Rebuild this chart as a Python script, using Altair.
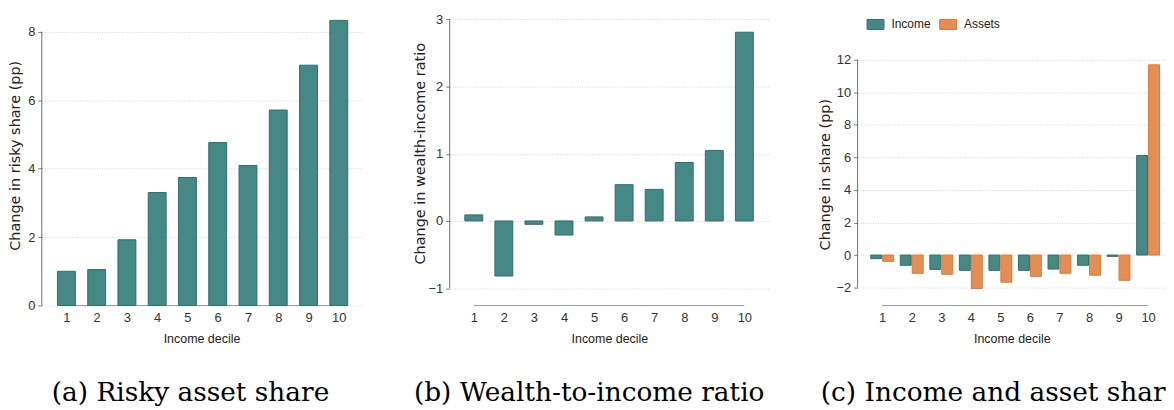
import altair as alt
import pandas as pd

# ---------------- data ----------------
deciles = list(range(1, 11))
risky_share = [1.00, 1.05, 1.92, 3.30, 3.74, 4.76, 4.09, 5.71, 7.02, 8.33]
wealth_income = [0.09, -0.82, -0.05, -0.21, 0.06, 0.54, 0.47, 0.87, 1.05, 2.81]
income_share = [-0.22, -0.63, -0.88, -0.94, -0.94, -0.94, -0.86, -0.63, -0.08, 6.12]
asset_share = [-0.39, -1.12, -1.18, -2.06, -1.67, -1.31, -1.12, -1.24, -1.55, 11.69]
series_names = ["Income", "Assets"]

ticks_a = [0, 2, 4, 6, 8]
ticks_b = [-1, 0, 1, 2, 3]
ticks_c = [-2, 0, 2, 4, 6, 8, 10, 12]

# the third caption is cut by the right edge of the figure
captions = ["(a) Risky asset share", "(b) Wealth-to-income ratio",
            "(c) Income and asset shar"]
y_titles = ["Change in risky share (pp)", "Change in wealth-income ratio",
            "Change in share (pp)"]
x_title = "Income decile"

# ---------------- style ----------------
TEAL, TEAL_DARK = "#468886", "#2e6f6e"
ORANGE, ORANGE_DARK = "#e48e56", "#e07733"
W, H = 321, 289
W_C = 310
TICK_FONT = "Liberation Sans"
TITLE_FONT = "DejaVu Sans"
CAP_FONT = "DejaVu Serif"


def x_enc(field, xdom):
    return alt.X(
        field,
        scale=alt.Scale(domain=xdom, nice=False, zero=False, padding=0),
        axis=alt.Axis(values=deciles, title=x_title, grid=False, domain=False,
                      ticks=False, format="d", labelFlush=False, labelOverlap=False,
                      labelFont=TICK_FONT, labelFontSize=13, labelColor="#333",
                      labelPadding=6, titleFont=TICK_FONT, titleFontSize=12.5,
                      titleFontWeight="normal", titleColor="#222", titlePadding=8),
    )


def y_enc(field, ydom, ticks, title, tx, ty):
    return alt.Y(
        field,
        scale=alt.Scale(domain=ydom, nice=False, zero=False, padding=0),
        axis=alt.Axis(values=ticks, title=title, grid=True, gridDash=[1, 1.5],
                      gridColor="#d4d4d4", domain=False, ticks=True, tickSize=4,
                      tickColor="#777", labelFont=TICK_FONT, labelFontSize=13,
                      labelColor="#333", labelPadding=3, labelFlush=False,
                      titleFont=TITLE_FONT, titleFontSize=14.5,
                      titleFontWeight="normal", titleColor="#222", titleX=tx,
                      titleY=ty, titleBaseline="middle"),
    )


def axis_lines(ticks, ydom, xdom, ytitle, tx, ty, height):
    ydf = pd.DataFrame({"lo": [min(ticks)], "hi": [max(ticks)]})
    xdf = pd.DataFrame({"x1": [min(deciles)], "x2": [max(deciles)]})
    yrule = alt.Chart(ydf).mark_rule(color="#707070", strokeWidth=1).encode(
        y=y_enc("lo:Q", ydom, ticks, ytitle, tx, ty),
        y2="hi:Q",
        x=alt.value(0),
    )
    xrule = alt.Chart(xdf).mark_rule(color="#9a9a9a", strokeWidth=1).encode(
        x=x_enc("x1:Q", xdom),
        x2="x2:Q",
        y=alt.value(height),
    )
    return yrule, xrule


def caption(text, dx):
    return alt.TitleParams(text, orient="bottom", anchor="start", frame="group",
                           dx=dx, offset=36, font=CAP_FONT, fontSize=26.5,
                           fontWeight="normal", color="black")


# ---------- panel a ----------
xdom_a = [0.188, 0.188 + W / 30.42]
ydom_a = [0, 8.40]
ya = (y_titles[0], -26, 138)
df_a = pd.DataFrame({"decile": deciles, "value": risky_share})
yr_a, xr_a = axis_lines(ticks_a, ydom_a, xdom_a, *ya, H)
bars_a = alt.Chart(df_a).mark_bar(size=18, color=TEAL, stroke=TEAL_DARK,
                                  strokeWidth=1).encode(
    x=x_enc("decile:Q", xdom_a),
    y=y_enc("value:Q", ydom_a, ticks_a, *ya),
)
panel_a = alt.layer(yr_a, xr_a, bars_a).properties(
    width=W, height=H, title=caption(captions[0], 10))

# ---------- panel b ----------
xdom_b = [0.199, 0.199 + W / 30.22]
ydom_b = [-1.259, 3.022]
yb = (y_titles[1], -29, 136)
df_b = pd.DataFrame({"decile": deciles, "value": wealth_income})
yr_b, xr_b = axis_lines(ticks_b, ydom_b, xdom_b, *yb, H)
bars_b = alt.Chart(df_b).mark_bar(size=18, color=TEAL, stroke=TEAL_DARK,
                                  strokeWidth=1).encode(
    x=x_enc("decile:Q", xdom_b),
    y=y_enc("value:Q", ydom_b, ticks_b, *yb),
)
panel_b = alt.layer(yr_b, xr_b, bars_b).properties(
    width=W, height=H, title=caption(captions[1], -36))

# ---------- panel c ----------
xdom_c = [0.168, 0.168 + W_C / 29.7]
ydom_c = [-3.10, 14.57]
yc = (y_titles[2], -32, 157)
df_c = pd.DataFrame({
    "decile": deciles * 2,
    "series": [series_names[0]] * 10 + [series_names[1]] * 10,
    "value": income_share + asset_share,
})
legend_c = alt.Legend(title=None, orient="none", legendX=829, legendY=-3,
                      direction="horizontal",
                      symbolType="M-1,-0.59H1V0.59H-1Z", symbolSize=289,
                      symbolStrokeWidth=1, symbolOpacity=1,
                      labelFont=TICK_FONT, labelFontSize=12, labelColor="#222",
                      labelOffset=7, columnPadding=6)
yr_c, xr_c = axis_lines(ticks_c, ydom_c, xdom_c, *yc, H)
base_c = alt.Chart(df_c).encode(
    x=x_enc("decile:Q", xdom_c),
    y=y_enc("value:Q", ydom_c, ticks_c, *yc),
    color=alt.Color("series:N", sort=series_names,
                    scale=alt.Scale(domain=series_names, range=[TEAL, ORANGE]),
                    legend=legend_c),
    stroke=alt.Stroke("series:N", sort=series_names,
                      scale=alt.Scale(domain=series_names,
                                      range=[TEAL_DARK, ORANGE_DARK]),
                      legend=legend_c),
)
bars_inc = base_c.transform_filter(alt.datum.series == series_names[0]).mark_bar(
    size=11, xOffset=-6, strokeWidth=1, opacity=1)
bars_ast = base_c.transform_filter(alt.datum.series == series_names[1]).mark_bar(
    size=11, xOffset=6, strokeWidth=1, opacity=1)
panel_c = alt.layer(yr_c, xr_c, bars_inc, bars_ast).properties(
    width=W_C, height=H, title=caption(captions[2], -37))

chart = alt.hconcat(panel_a, panel_b, panel_c, spacing=89, bounds="flush").properties(
    padding={"left": 0, "top": 4, "right": 0, "bottom": 0},
    background="white",
).configure_view(stroke=None)

chart.save("out.html", embed_options={"renderer": "svg", "actions": False})
